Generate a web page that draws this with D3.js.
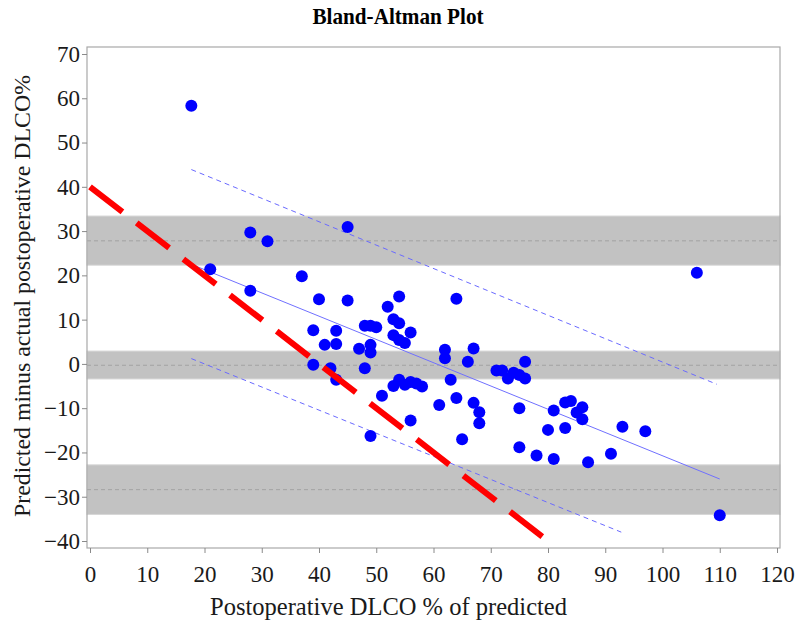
<!DOCTYPE html>
<html>
<head>
<meta charset="utf-8">
<script src="https://cdn.jsdelivr.net/npm/d3@7/dist/d3.min.js"></script>
<style>
  html, body { margin: 0; padding: 0; background: #fff; }
  svg { display: block; }
</style>
</head>
<body>
<svg id="chart" width="796" height="625"></svg>
<script>
// ---- data ----
const postopDLCO = [17.7, 21, 28, 31, 28, 45, 37, 40, 45, 54, 52, 64, 53, 54, 48, 49, 50, 39, 43, 53,
  56, 41, 43, 54, 55, 49, 47, 49, 62, 62, 67, 66, 76, 71, 72, 73, 74, 75, 76, 39,
  42, 43, 48, 63, 54, 53, 55, 56, 57, 58, 51, 61, 64, 67, 68, 68, 56, 75, 49, 65,
  75, 80, 81, 78, 81, 83, 84, 85, 86, 86, 83, 87, 91, 93, 97, 106, 110];
const difference = [58.3, 21.4, 29.7, 27.7, 16.5, 30.9, 19.8, 14.6, 14.3, 15.2, 12.9, 14.7, 10.1, 9.2, 8.6, 8.6, 8.3, 7.6, 7.5, 6.5,
  7.1, 4.3, 4.5, 5.4, 4.7, 4.3, 3.4, 2.6, 3.2, 1.3, 3.5, 0.5, 0.5, -1.5, -1.5, -3.3, -2.0, -2.5, -3.3, -0.2,
  -1.0, -3.6, -1.0, -3.6, -3.6, -5.0, -4.7, -4.1, -4.4, -5.1, -7.2, -9.3, -7.7, -8.8, -10.9, -13.4, -12.8, -10.0, -16.3, -17.0,
  -18.8, -14.9, -10.5, -20.7, -21.5, -8.7, -8.4, -11.0, -9.8, -12.5, -14.5, -22.2, -20.3, -14.2, -15.2, 20.6, -34.2];

// horizontal reference bands: [low, centre, high]
const bandLow    = [-34.0, -3.4, 22.3];
const bandCentre = [-28.4, -0.3, 27.8];
const bandHigh   = [-22.8,  2.9, 33.4];

// fitted line and prediction limits (end points)
const regressionLine = [[17.7, 22.5], [110, -26.0]];
const upperLimit     = [[17.7, 43.9], [109.5, -4.6]];
const lowerLimit     = [[17.7, 1.2], [92.8, -38.0]];
const referenceLine  = [[0, 40], [79, -39]];

const xTicks = [0, 10, 20, 30, 40, 50, 60, 70, 80, 90, 100, 110, 120];
const yTicks = [-40, -30, -20, -10, 0, 10, 20, 30, 40, 50, 60, 70];

const titleText = "Bland-Altman Plot";
const xLabel = "Postoperative DLCO % of predicted";
const yLabel = "Predicted minus actual postoperative DLCO%";

// ---- layout ----
const frame = { left: 87, top: 47, right: 780, bottom: 548 };
const x = d3.scaleLinear().domain([0, 120]).range([90, 777]);
const y = d3.scaleLinear().domain([-40, 70]).range([541, 54]);
const serif = "'Liberation Serif', 'Times New Roman', serif";

const svg = d3.select("#chart");
svg.append("rect").attr("width", 796).attr("height", 625).attr("fill", "#fff");

// bands
const bands = bandLow.map((lo, i) => ({ lo, c: bandCentre[i], hi: bandHigh[i] }));
svg.append("g").selectAll("rect").data(bands).join("rect")
  .attr("x", frame.left).attr("width", frame.right - frame.left)
  .attr("y", d => y(d.hi)).attr("height", d => y(d.lo) - y(d.hi))
  .attr("fill", "#c2c2c2").attr("stroke", "#d6d6d6").attr("stroke-width", 1);
svg.append("g").selectAll("line").data(bands).join("line")
  .attr("x1", frame.left).attr("x2", frame.right)
  .attr("y1", d => y(d.c)).attr("y2", d => y(d.c))
  .attr("stroke", "#a2a2a2").attr("stroke-width", 1).attr("stroke-dasharray", "4,3");

const line = d3.line().x(d => x(d[0])).y(d => y(d[1]));

// regression and prediction limits
svg.append("path").attr("d", line(regressionLine)).attr("fill", "none")
  .attr("stroke", "#7070ff").attr("stroke-width", 1);
svg.append("path").attr("d", line(upperLimit)).attr("fill", "none")
  .attr("stroke", "#6a6aff").attr("stroke-width", 1).attr("stroke-dasharray", "5,4");
svg.append("path").attr("d", line(lowerLimit)).attr("fill", "none")
  .attr("stroke", "#6a6aff").attr("stroke-width", 1).attr("stroke-dasharray", "5,4");

// points
const pts = postopDLCO.map((v, i) => [v, difference[i]]);
svg.append("g").selectAll("circle").data(pts).join("circle")
  .attr("cx", d => x(d[0])).attr("cy", d => y(d[1])).attr("r", 6)
  .attr("fill", "#0000ff");

// red reference line
svg.append("path").attr("d", line(referenceLine)).attr("fill", "none")
  .attr("stroke", "#ff0000").attr("stroke-width", 6).attr("stroke-dasharray", "41,18");

// frame
svg.append("rect").attr("x", frame.left).attr("y", frame.top)
  .attr("width", frame.right - frame.left).attr("height", frame.bottom - frame.top)
  .attr("fill", "none").attr("stroke", "#a8a8a8").attr("stroke-width", 1.2);

// axes
const yAxis = svg.append("g").attr("transform", `translate(${frame.left},0)`)
  .call(d3.axisLeft(y).tickValues(yTicks).tickSize(5).tickPadding(2).tickFormat(d3.format("d")));
yAxis.attr("font-family", serif);
yAxis.select(".domain").remove();
yAxis.selectAll(".tick line").attr("stroke", "#8a8a8a");
yAxis.selectAll(".tick text").attr("font-family", serif).attr("font-size", 23).attr("fill", "#1a1a1a");

const xAxis = svg.append("g").attr("transform", `translate(0,${frame.bottom})`)
  .call(d3.axisBottom(x).tickValues(xTicks).tickSize(5).tickFormat(d3.format("d")));
xAxis.attr("font-family", serif);
xAxis.select(".domain").remove();
xAxis.selectAll(".tick line").attr("stroke", "#8a8a8a");
xAxis.selectAll(".tick text").attr("font-family", serif).attr("font-size", 23).attr("fill", "#1a1a1a")
  .attr("y", 34).attr("dy", 0);

// titles
svg.append("text").attr("x", 398).attr("y", 23.5).attr("text-anchor", "middle")
  .attr("font-family", serif).attr("font-weight", "bold").attr("font-size", 24)
  .attr("textLength", 171).attr("lengthAdjust", "spacingAndGlyphs").attr("fill", "#000")
  .text(titleText);
svg.append("text").attr("x", 388.5).attr("y", 615).attr("text-anchor", "middle")
  .attr("font-family", serif).attr("font-size", 25)
  .attr("textLength", 357).attr("lengthAdjust", "spacingAndGlyphs").attr("fill", "#1a1a1a")
  .text(xLabel);
svg.append("text").attr("transform", "translate(30,296) rotate(-90)").attr("text-anchor", "middle")
  .attr("font-family", serif).attr("font-size", 24)
  .attr("textLength", 442).attr("lengthAdjust", "spacingAndGlyphs").attr("fill", "#1a1a1a")
  .text(yLabel);
</script>
</body>
</html>
